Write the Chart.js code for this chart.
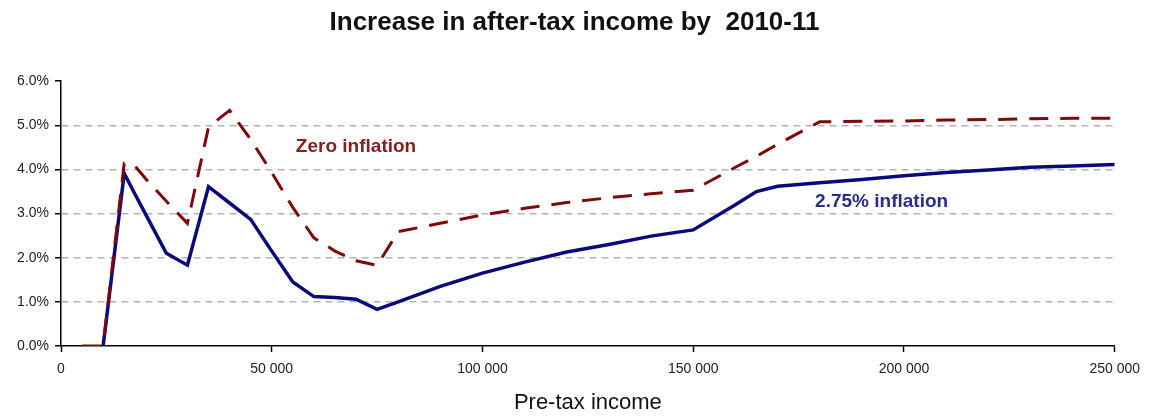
<!DOCTYPE html>
<html>
<head>
<meta charset="utf-8">
<script src="https://cdn.jsdelivr.net/npm/chart.js@4"></script>
<style>
  html, body { margin: 0; padding: 0; background: #fff; }
  #wrap { width: 1149px; height: 416px; }
</style>
</head>
<body>
<div id="wrap"><canvas id="taxChart"></canvas></div>
<script>
// Pre-tax income points (x) and increase in after-tax income (%)
const incomes = [5000, 10000, 15000, 17500, 20000, 25000, 30000, 35000, 40000, 45000, 50000,
    55000, 60000, 65000, 70000, 75000, 80000, 90000, 100000, 110000, 120000,
    130000, 140000, 150000, 160000, 165000, 170000, 180000, 190000, 200000, 210000,
    220000, 230000, 240000, 250000];

const zeroInflation = [0, 0, 4.14, 4.08, 3.8, 3.28, 2.78, 4.96, 5.34, 4.68, 3.93,
    3.14, 2.45, 2.15, 1.93, 1.83, 2.59, 2.78, 2.97, 3.12, 3.25,
    3.36, 3.45, 3.53, 4.05, 4.3, 4.57, 5.08, 5.09, 5.10, 5.12,
    5.13, 5.15, 5.16, 5.16];

const inflation275 = [null, 0, 3.91, 3.45, 3.0, 2.10, 1.83, 3.61, 3.24, 2.87, 2.15,
    1.45, 1.12, 1.10, 1.06, 0.83, 1.0, 1.35, 1.65, 1.9, 2.13,
    2.3, 2.49, 2.63, 3.2, 3.5, 3.62, 3.70, 3.77, 3.86, 3.93,
    3.99, 4.05, 4.08, 4.11];

const yTicks = [0, 1, 2, 3, 4, 5, 6];

// text labels placed at data coordinates
const seriesLabels = [
    { text: 'Zero inflation', x: 70000, y: 4.51, color: '#8b1c1c' },
    { text: '2.75% inflation', x: 194700, y: 3.27, color: '#2b2b8c' }
];

function toPoints(values) {
    return incomes.map((x, i) => ({ x: x, y: values[i] }));
}

function spaced(v) {
    return String(v).replace(/\B(?=(\d{3})+(?!\d))/g, ' ');
}

const labelPlugin = {
    id: 'seriesLabels',
    afterDatasetsDraw(chart) {
        const ctx = chart.ctx;
        const xs = chart.scales.x, ys = chart.scales.y;
        ctx.save();
        ctx.font = 'bold 19px "Liberation Sans", Arial, sans-serif';
        ctx.textAlign = 'center';
        ctx.textBaseline = 'middle';
        seriesLabels.forEach(l => {
            ctx.fillStyle = l.color;
            ctx.fillText(l.text, xs.getPixelForValue(l.x), ys.getPixelForValue(l.y));
        });
        ctx.restore();
    }
};

const font = '"Liberation Sans", Arial, sans-serif';

const ctx = document.getElementById('taxChart').getContext('2d');
const taxChart = new Chart(ctx, {
    type: 'line',
    data: {
        datasets: [{
            label: '2.75% inflation',
            data: toPoints(inflation275),
            yAxisID: 'y',
            borderColor: '#0a0a7a',
            borderWidth: 3.5,
            pointRadius: 0,
            tension: 0,
            order: 2
        }, {
            label: 'Zero inflation',
            data: toPoints(zeroInflation),
            yAxisID: 'y',
            borderColor: '#7d0a0a',
            borderWidth: 3,
            borderDash: [19, 12],
            pointRadius: 0,
            tension: 0,
            order: 1
        }]
    },
    options: {
        responsive: true,
        maintainAspectRatio: false,
        animation: false,
        layout: { padding: 0 },
        plugins: {
            legend: { display: false },
            tooltip: { enabled: false },
            title: {
                display: true,
                text: 'Increase in after-tax income by  2010-11',
                color: '#111',
                font: { family: font, size: 26, weight: 'bold' },
                padding: { top: 7, bottom: 43 }
            }
        },
        scales: {
            x: {
                type: 'linear',
                min: 0,
                max: 250000,
                afterFit: s => { s.height = 70; },
                ticks: {
                    stepSize: 50000,
                    padding: 9,
                    color: '#222',
                    font: { family: font, size: 14 },
                    callback: v => spaced(v)
                },
                grid: { drawOnChartArea: false, tickLength: 6, tickColor: '#000', tickWidth: 1.5 },
                border: { color: '#000', width: 1.5 },
                title: {
                    display: true,
                    text: 'Pre-tax income',
                    color: '#111',
                    font: { family: font, size: 22 },
                    padding: { top: 0, bottom: 0 }
                }
            },
            y: {
                position: 'left',
                min: 0,
                max: 6,
                afterFit: s => { s.width = 61; },
                afterBuildTicks: s => { s.ticks = yTicks.map(v => ({ value: v })); },
                ticks: {
                    padding: 6,
                    color: '#222',
                    font: { family: font, size: 14 },
                    callback: v => v.toFixed(1) + '%'
                },
                grid: {
                    color: c => (c.tick && (c.tick.value === 0 || c.tick.value === 6)) ? 'rgba(0,0,0,0)' : '#b4b4b4',
                    lineWidth: 1.5,
                    tickLength: 6,
                    tickColor: '#000',
                    tickWidth: 1.5
                },
                border: { color: '#000', width: 1.5, dash: [7, 5] }
            },
            // empty spacer on the right so the plot ends where the original does
            spacer: {
                type: 'linear',
                axis: 'y',
                position: 'right',
                min: 0,
                max: 6,
                afterFit: s => { s.width = 34; },
                grid: { display: false, drawTicks: false },
                ticks: { display: false },
                border: { display: false }
            }
        }
    },
    plugins: [labelPlugin]
});
</script>
</body>
</html>
